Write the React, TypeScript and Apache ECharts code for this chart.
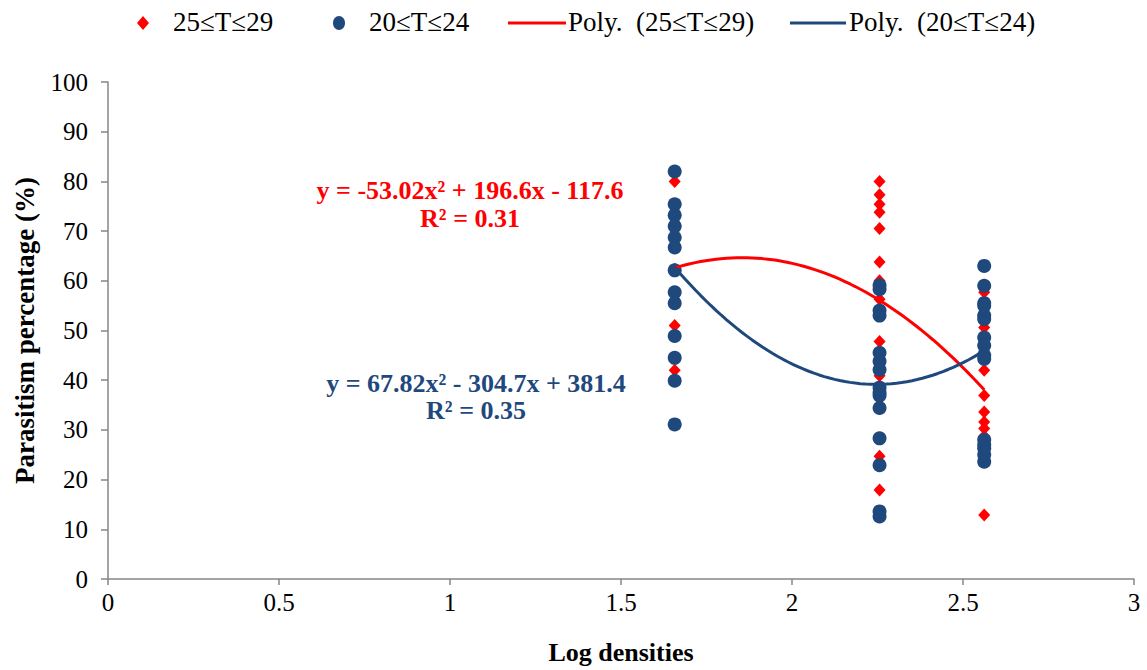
import React, { useEffect, useRef } from "react";
import * as echarts from "echarts";

// Log densities of the three host density levels
const xLevels = [1.657, 2.256, 2.562];

// 25≤T≤29 observations per density level
const red1 = [80, 62.3, 51, 42];
const red2 = [80, 77.3, 75.4, 73.8, 70.5, 63.8, 60, 56.3, 47.8, 45.5, 40.9, 24.7, 17.9];
const red3 = [57.7, 55, 50.6, 42, 36.9, 33.6, 31.6, 30.3, 28.7, 12.9];

// 20≤T≤24 observations per density level
const blue1 = [82, 75.4, 73.2, 71, 68.7, 66.7, 62.1, 57.7, 55.5, 48.9, 44.5, 39.9, 31.1];
const blue2 = [59.1, 58.3, 54, 53, 45.5, 43.8, 42.1, 38.5, 37.5, 36.9, 34.4, 28.3, 22.9, 13.6, 12.6];
const blue3 = [63, 59, 55.5, 55, 53, 52.3, 48.6, 47, 45, 44.3, 28, 27, 26.3, 25, 23.6];

// Polynomial trendline coefficients [a, b, c] for y = a x^2 + b x + c
const redCoef = [-53.02, 196.6, -117.6];
const blueCoef = [67.82, -304.7, 381.4];

const legendLabels = ["25≤T≤29", "20≤T≤24", "Poly.  (25≤T≤29)", "Poly.  (20≤T≤24)"];
const redEq = ["y = -53.02x² + 196.6x - 117.6", "R² = 0.31"];
const blueEq = ["y = 67.82x² - 304.7x + 381.4", "R² = 0.35"];

const xTicks = [0, 0.5, 1, 1.5, 2, 2.5, 3];

const RED = "#FF0000";
const BLUE = "#1F497D";
const AXIS = "#868686";
const FONT = "'Liberation Serif', 'Times New Roman', serif";

function pts(groups: number[][]) {
  const out: number[][] = [];
  groups.forEach((g, i) => g.forEach((v) => out.push([xLevels[i], v])));
  return out;
}

function curve(coef: number[]) {
  const out: number[][] = [];
  const x0 = xLevels[0];
  const x1 = xLevels[2];
  const n = 60;
  for (let i = 0; i <= n; i++) {
    const x = x0 + ((x1 - x0) * i) / n;
    out.push([x, coef[0] * x * x + coef[1] * x + coef[2]]);
  }
  return out;
}

export default function App() {
  const ref = useRef<HTMLDivElement>(null);
  useEffect(() => {
    document.body.style.margin = "0";
    const chart = echarts.init(ref.current!, null, { renderer: "svg" });
    const legendY = 23;
    const legendFont = 27;
    chart.setOption({
      animation: false,
      backgroundColor: "#fff",
      grid: { left: 108, right: 13, top: 82, bottom: 89, containLabel: false },
      xAxis: {
        type: "value",
        min: 0,
        max: 3,
        interval: 0.5,
        name: "Log densities",
        nameLocation: "middle",
        nameGap: 60,
        nameTextStyle: { fontFamily: FONT, fontWeight: "bold", fontSize: 26, color: "#000" },
        axisLine: { show: true, lineStyle: { color: AXIS, width: 1.5 } },
        axisTick: { show: true, length: 6, lineStyle: { color: AXIS, width: 1.5 } },
        axisLabel: {
          fontFamily: FONT,
          fontSize: 25,
          color: "#000",
          margin: 11,
          formatter: (v: number) => (xTicks.includes(v) ? String(v) : ""),
        },
        splitLine: { show: false },
      },
      yAxis: {
        type: "value",
        min: 0,
        max: 100,
        interval: 10,
        name: "Parasitism percentage (%)",
        nameLocation: "middle",
        nameGap: 70,
        nameTextStyle: { fontFamily: FONT, fontWeight: "bold", fontSize: 27, color: "#000" },
        axisLine: { show: true, lineStyle: { color: AXIS, width: 1.5 } },
        axisTick: { show: true, length: 7, lineStyle: { color: AXIS, width: 1.5 } },
        axisLabel: { fontFamily: FONT, fontSize: 25, color: "#000", margin: 20 },
        splitLine: { show: false },
      },
      series: [
        {
          name: legendLabels[1],
          type: "scatter",
          data: pts([blue1, blue2, blue3]),
          symbol: "circle",
          symbolSize: 14,
          itemStyle: { color: BLUE, opacity: 1 },
          z: 2,
        },
        {
          name: legendLabels[0],
          type: "scatter",
          data: pts([red1, red2, red3]),
          symbol: "diamond",
          symbolSize: [12, 13],
          itemStyle: { color: RED, opacity: 1 },
          z: 1,
        },
        {
          name: legendLabels[2],
          type: "line",
          data: curve(redCoef),
          symbol: "none",
          lineStyle: { color: RED, width: 3 },
          z: 3,
        },
        {
          name: legendLabels[3],
          type: "line",
          data: curve(blueCoef),
          symbol: "none",
          lineStyle: { color: BLUE, width: 3 },
          z: 3,
        },
      ],
      graphic: [
        // Legend
        { type: "polygon", shape: { points: [[143, legendY - 7], [149, legendY], [143, legendY + 7], [137, legendY]] }, style: { fill: RED } },
        { type: "text", left: 173, top: legendY - 15, style: { text: legendLabels[0], font: `${legendFont}px ${FONT}`, fill: "#000" } },
        { type: "ellipse", shape: { cx: 339, cy: legendY, rx: 6, ry: 7 }, style: { fill: BLUE } },
        { type: "text", left: 369, top: legendY - 15, style: { text: legendLabels[1], font: `${legendFont}px ${FONT}`, fill: "#000" } },
        { type: "line", shape: { x1: 508, y1: legendY, x2: 566, y2: legendY }, style: { stroke: RED, lineWidth: 3 } },
        { type: "text", left: 568, top: legendY - 15, style: { text: legendLabels[2], font: `${legendFont}px ${FONT}`, fill: "#000" } },
        { type: "line", shape: { x1: 790, y1: legendY, x2: 846, y2: legendY }, style: { stroke: BLUE, lineWidth: 3 } },
        { type: "text", left: 849, top: legendY - 15, style: { text: legendLabels[3], font: `${legendFont}px ${FONT}`, fill: "#000" } },
        // Equation labels
        { type: "text", x: 470, y: 190, style: { text: redEq[0], font: `bold 26px ${FONT}`, fill: RED, align: "center", verticalAlign: "middle" } },
        { type: "text", x: 470, y: 218, style: { text: redEq[1], font: `bold 26px ${FONT}`, fill: RED, align: "center", verticalAlign: "middle" } },
        { type: "text", x: 476, y: 383, style: { text: blueEq[0], font: `bold 26px ${FONT}`, fill: BLUE, align: "center", verticalAlign: "middle" } },
        { type: "text", x: 476, y: 410, style: { text: blueEq[1], font: `bold 26px ${FONT}`, fill: BLUE, align: "center", verticalAlign: "middle" } },
      ],
    });
    return () => chart.dispose();
  }, []);
  return <div ref={ref} style={{ width: 1147, height: 670 }} />;
}
